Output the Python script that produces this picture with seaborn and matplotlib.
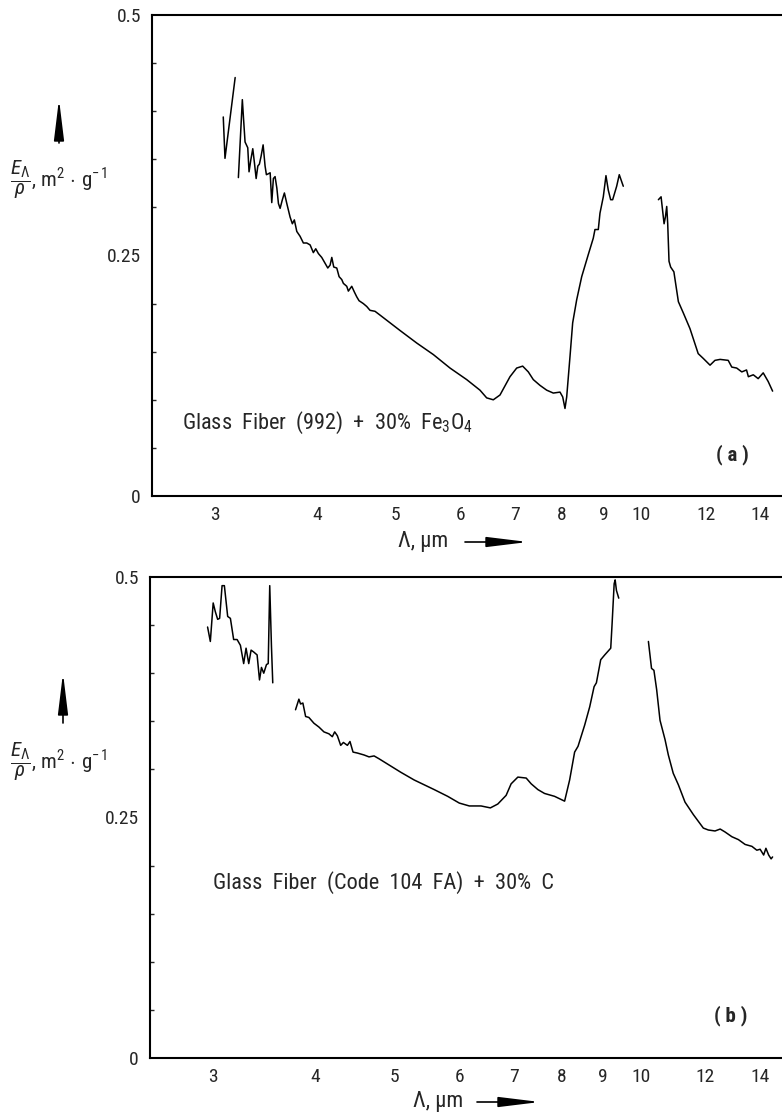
import numpy as np
import pandas as pd
import matplotlib
matplotlib.use("Agg")
import matplotlib.pyplot as plt
from matplotlib import font_manager
from matplotlib.ticker import FixedLocator, FixedFormatter, NullLocator, MultipleLocator
import seaborn as sns

# ---------------- data (wavelength in um, E/rho in m^2/g) ----------------
# Panel (a): Glass Fiber (992) + 30% Fe3O4 -- three separate traces
a1_wl = [3.07, 3.085, 3.175]
a1_val = [0.394, 0.351, 0.435]

a2_wl = [3.204, 3.240, 3.250, 3.265, 3.290, 3.302, 3.318, 3.337, 3.353, 3.369,
         3.385, 3.400, 3.416, 3.436, 3.455, 3.468, 3.488, 3.505, 3.521, 3.537,
         3.554, 3.572, 3.588, 3.605, 3.628, 3.649, 3.674, 3.708, 3.732, 3.753,
         3.779, 3.814, 3.850, 3.887, 3.924, 3.960, 3.987, 4.017, 4.055, 4.093,
         4.125, 4.152, 4.172, 4.195, 4.231, 4.259, 4.291, 4.311, 4.352, 4.372,
         4.414, 4.447, 4.477, 4.506, 4.561, 4.605, 4.648, 4.714, 4.782, 4.850,
         4.919, 5.060, 5.304, 5.559, 5.827, 6.108, 6.342, 6.463, 6.585, 6.711,
         6.903, 7.035, 7.155, 7.270, 7.373, 7.514, 7.658, 7.802, 7.951, 8.012,
         8.064, 8.103, 8.179, 8.241, 8.335, 8.454, 8.613, 8.735, 8.777, 8.860,
         8.902, 8.986, 9.054, 9.113, 9.175, 9.227, 9.332, 9.401, 9.508]
a2_val = [0.331, 0.412, 0.394, 0.368, 0.362, 0.337, 0.349, 0.361, 0.346, 0.330,
          0.343, 0.345, 0.353, 0.365, 0.343, 0.334, 0.335, 0.336, 0.305, 0.330,
          0.332, 0.320, 0.304, 0.299, 0.308, 0.315, 0.304, 0.290, 0.283, 0.287,
          0.275, 0.270, 0.263, 0.263, 0.261, 0.253, 0.257, 0.252, 0.248, 0.242,
          0.237, 0.240, 0.248, 0.238, 0.237, 0.228, 0.225, 0.221, 0.218, 0.213,
          0.218, 0.212, 0.207, 0.203, 0.200, 0.197, 0.193, 0.192, 0.188, 0.184,
          0.180, 0.172, 0.159, 0.147, 0.133, 0.121, 0.110, 0.102, 0.100, 0.105,
          0.124, 0.133, 0.135, 0.129, 0.121, 0.115, 0.110, 0.107, 0.108, 0.103,
          0.091, 0.103, 0.145, 0.180, 0.204, 0.228, 0.251, 0.268, 0.277, 0.277,
          0.294, 0.311, 0.333, 0.318, 0.308, 0.308, 0.322, 0.334, 0.322]

a3_wl = [10.50, 10.58, 10.67, 10.71, 10.75, 10.78, 10.82, 10.87, 10.97, 11.11,
         11.27, 11.48, 11.75, 11.92, 12.15, 12.32, 12.50, 12.79, 12.92, 13.10,
         13.29, 13.47, 13.54, 13.73, 13.92, 14.12, 14.32, 14.50]
a3_val = [0.308, 0.311, 0.283, 0.290, 0.301, 0.283, 0.244, 0.238, 0.233, 0.202,
          0.190, 0.174, 0.148, 0.143, 0.136, 0.141, 0.142, 0.141, 0.134, 0.133,
          0.129, 0.131, 0.124, 0.126, 0.122, 0.128, 0.119, 0.109]

# Panel (b): Glass Fiber (Code 104 FA) + 30% C -- three separate traces
b1_wl = [2.952, 2.975, 2.999, 3.017, 3.037, 3.054, 3.075, 3.095, 3.124, 3.148,
         3.177, 3.208, 3.238, 3.268, 3.290, 3.315, 3.337, 3.362, 3.394, 3.417,
         3.436, 3.458, 3.485, 3.502, 3.517, 3.534, 3.547]
b1_val = [0.448, 0.433, 0.473, 0.464, 0.456, 0.457, 0.491, 0.491, 0.459, 0.457,
          0.435, 0.435, 0.429, 0.410, 0.426, 0.410, 0.424, 0.422, 0.419, 0.393,
          0.406, 0.400, 0.409, 0.410, 0.491, 0.428, 0.390]

b2_wl = [3.782, 3.818, 3.836, 3.861, 3.891, 3.927, 3.983, 4.040, 4.097, 4.155,
         4.195, 4.223, 4.255, 4.295, 4.328, 4.377, 4.409, 4.447, 4.502, 4.587,
         4.652, 4.719, 4.786, 5.088, 5.283, 5.590, 5.806, 5.999, 6.171, 6.378,
         6.548, 6.686, 6.845, 6.942, 7.075, 7.243, 7.346, 7.486, 7.627, 7.846,
         8.071, 8.186, 8.302, 8.382, 8.540, 8.662, 8.770, 8.827, 8.935, 9.037,
         9.191, 9.227, 9.280, 9.306, 9.340, 9.401]
b2_val = [0.362, 0.373, 0.368, 0.369, 0.355, 0.354, 0.348, 0.344, 0.339, 0.337,
          0.334, 0.339, 0.335, 0.325, 0.328, 0.325, 0.329, 0.318, 0.317, 0.315,
          0.313, 0.314, 0.311, 0.297, 0.289, 0.279, 0.272, 0.265, 0.262, 0.262,
          0.260, 0.264, 0.273, 0.285, 0.292, 0.291, 0.285, 0.279, 0.275, 0.272,
          0.267, 0.289, 0.318, 0.324, 0.346, 0.365, 0.386, 0.390, 0.414, 0.419,
          0.426, 0.452, 0.493, 0.497, 0.486, 0.478]

b3_wl = [10.22, 10.31, 10.38, 10.46, 10.56, 10.71, 10.81, 10.96, 11.12, 11.33,
         11.60, 11.93, 12.10, 12.33, 12.51, 12.68, 12.93, 13.17, 13.42, 13.68,
         13.87, 14.00, 14.14, 14.23, 14.34, 14.44, 14.50]
b3_val = [0.433, 0.405, 0.403, 0.383, 0.351, 0.331, 0.315, 0.296, 0.284, 0.266,
          0.253, 0.239, 0.237, 0.236, 0.238, 0.235, 0.230, 0.227, 0.222, 0.220,
          0.216, 0.217, 0.211, 0.218, 0.211, 0.207, 0.209]

x_ticks = [3, 4, 5, 6, 7, 8, 9, 10, 11, 12, 13, 14]
x_tick_labels = ["3", "4", "5", "6", "7", "8", "9", "10", "", "12", "", "14"]
y_ticks = [0, 0.25, 0.5]
y_tick_labels = ["0", "0.25", "0.5"]

label_a = r"Glass  Fiber  (992)  +  30%  Fe$_3$O$_4$"
label_b = "Glass  Fiber  (Code  104  FA)  +  30%  C"

# ---------------- style ----------------
sns.set_style("white")
names = {f.name for f in font_manager.fontManager.ttflist}
base = "DejaVu Sans"
for cand in ["Liberation Sans Narrow", "Roboto Condensed", "DejaVu Sans"]:
    if cand in names:
        base = cand
        break
plt.rcParams["font.family"] = [base, "DejaVu Sans"]
plt.rcParams["mathtext.fontset"] = "custom"
plt.rcParams["mathtext.rm"] = base
plt.rcParams["mathtext.it"] = base + ":italic"


def make_df(segments):
    frames = []
    for i, (wl, val) in enumerate(segments):
        frames.append(pd.DataFrame({"wl": wl, "val": val, "seg": i}))
    return pd.concat(frames, ignore_index=True)


df_a = make_df([(a1_wl, a1_val), (a2_wl, a2_val), (a3_wl, a3_val)])
df_b = make_df([(b1_wl, b1_val), (b2_wl, b2_val), (b3_wl, b3_val)])

W, H = 782, 1116
fig = plt.figure(figsize=(W / 100, H / 100), dpi=100)
ax_a = fig.add_axes([152 / W, 1 - 496 / H, (W - 152) / W, 481 / H])
ax_b = fig.add_axes([150 / W, 1 - 1058 / H, (W - 150) / W, 481 / H])

for ax, df in ((ax_a, df_a), (ax_b, df_b)):
    sns.lineplot(data=df, x="wl", y="val", units="seg", estimator=None,
                 sort=False, color="black", linewidth=1.1, ax=ax)
    ax.set_xscale("log")
    ax.set_xlim(2.51, 14.89)
    ax.set_ylim(0, 0.5)
    ax.xaxis.set_major_locator(FixedLocator(x_ticks))
    ax.xaxis.set_major_formatter(FixedFormatter(x_tick_labels))
    ax.xaxis.set_minor_locator(NullLocator())
    ax.yaxis.set_major_locator(FixedLocator(y_ticks))
    ax.yaxis.set_major_formatter(FixedFormatter(y_tick_labels))
    ax.yaxis.set_minor_locator(MultipleLocator(0.05))
    ax.tick_params(axis="x", which="major", direction="in", length=4, width=1,
                   labelsize=14, pad=7, color="black")
    ax.tick_params(axis="y", which="major", direction="in", length=8, width=1,
                   labelsize=14, pad=8, color="black")
    ax.tick_params(axis="y", which="minor", direction="in", length=3, width=1,
                   left=True)
    ax.set_xlabel("")
    ax.set_ylabel("")
    for s in ("left", "bottom", "top"):
        ax.spines[s].set_visible(True)
        ax.spines[s].set_color("black")
        ax.spines[s].set_linewidth(1.5)
    ax.spines["right"].set_visible(False)
    ax.set_facecolor("white")

ax_a.text(0.048, 0.152, label_a, transform=ax_a.transAxes, fontsize=16,
          va="center", ha="left")
ax_b.text(0.0997, 0.364, label_b, transform=ax_b.transAxes, fontsize=16,
          va="center", ha="left")
ax_a.text(0.922, 0.085, "( a )", transform=ax_a.transAxes, fontsize=15,
          fontweight="bold", va="center", ha="center")
ax_b.text(0.919, 0.089, "( b )", transform=ax_b.transAxes, fontsize=15,
          fontweight="bold", va="center", ha="center")

ylab = r"$\dfrac{E_{\Lambda}}{\rho}$, m$^{2}\,\cdot\,$g$^{-\,1}$"
xlab = "Λ, μm"
arrow_kw = dict(arrowstyle="-|>,head_length=1.8,head_width=0.22",
                color="black", lw=1.2, shrinkA=0, shrinkB=0, mutation_scale=14)

# y labels with upward arrows (figure pixel coordinates)
for y_center, ax_x, y0, y1 in ((936, 59, 973, 1017), (354, 63, 393, 443)):
    fig.text(10 / W, y_center / H, ylab, fontsize=15, va="center", ha="left")
    ax_a.annotate("", xy=(ax_x, y1), xytext=(ax_x, y0), xycoords="figure pixels",
                  textcoords="figure pixels", arrowprops=arrow_kw,
                  annotation_clip=False)

# x labels with rightward arrows
for x_text, y_c, x0, x1 in ((398, H - 542, 465, 528), (413, H - 1102, 477, 540)):
    fig.text(x_text / W, y_c / H, xlab, fontsize=16, va="center", ha="left")
    ax_a.annotate("", xy=(x1, y_c), xytext=(x0, y_c), xycoords="figure pixels",
                  textcoords="figure pixels", arrowprops=arrow_kw,
                  annotation_clip=False)

fig.savefig("out.png", dpi=100, facecolor="white")
